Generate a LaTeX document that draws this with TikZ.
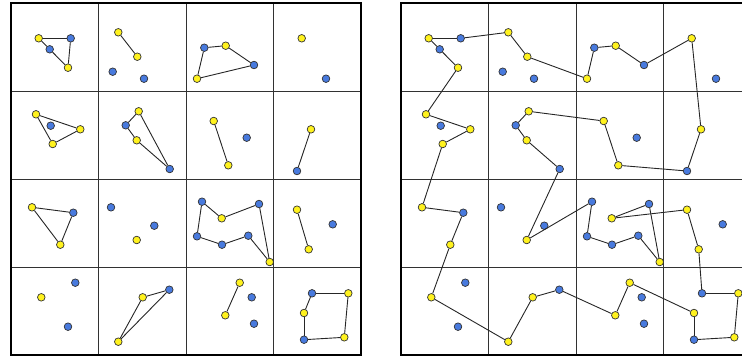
\documentclass[tikz,border=0pt]{standalone}
\usepackage{xcolor}
\usepackage{tikz}
\definecolor{ptyellow}{RGB}{255,242,30}
\definecolor{ptblue}{RGB}{72,122,222}
\definecolor{gridgray}{RGB}{50,50,50}

% point data: x/y/colour/number (pixels, y downwards)
\newcommand{\ptlist}{38.7/38.3/y/1, 70.7/38.3/b/2, 49.7/49.3/b/3, 68/67.7/y/4,
  118.3/32.3/y/5, 137.3/56.7/y/6, 112.7/71.7/b/7, 144/78.7/b/8,
  204.3/47.7/b/9, 225.7/45.7/y/10, 254/65/b/11, 197/78.7/y/12,
  301.7/38.3/y/13, 326/78.7/b/14,
  36/114.3/y/15, 50.7/125.7/b/16, 80.3/129.3/y/17, 52.7/144/y/18,
  138.7/111.3/y/19, 125.7/125.3/b/20, 136.7/140.3/y/21, 169.7/169/b/22,
  213.7/121/y/23, 246.7/137.7/b/24, 228.3/165.3/y/25,
  311/129.3/y/26, 297/171/b/27,
  32/207.3/y/28, 73.3/212.7/b/29, 60.3/244.7/y/30,
  111/207.3/b/31, 154.3/225.7/b/32, 136.7/240/y/33,
  202/201.7/b/34, 221.7/218.3/y/35, 259/204/b/36, 197/236.3/b/37,
  222/244.7/b/38, 248.3/235.7/b/39, 269.7/262/y/40,
  297/209.7/y/41, 332.7/224.3/b/42, 308.7/249.3/y/43,
  75.3/282.7/b/44, 41.3/297.3/y/45, 68/326.7/b/46,
  142.7/297.3/y/47, 169.3/289.7/b/48, 118.3/341.7/y/49,
  239.7/282.7/y/50, 251.7/297.3/b/51, 225.3/315.3/y/52, 254/323.7/b/53,
  312/293.3/b/54, 348.3/293.3/y/55, 304/313/y/56, 304/339.7/b/57, 344.3/337.3/y/58}

\begin{document}
\begin{tikzpicture}[x=1pt, y=-1pt,
  ypt/.style={circle, draw=black!80, line width=0.7pt, fill=ptyellow,
              inner sep=0pt, minimum size=7.6pt},
  bpt/.style={circle, draw=black!80, line width=0.7pt, fill=ptblue,
              inner sep=0pt, minimum size=7.6pt},
  cellline/.style={draw=gridgray, line width=0.9pt},
  border/.style={draw=black, line width=2pt},
  edge/.style={draw=black!85, line width=0.9pt}]
  \useasboundingbox (0,0) rectangle (742,357);
  \clip (0,0) rectangle (742,357);
  % two 4x4 grids
  \foreach \gx/\gn in {11/l, 401/r} {
    \foreach \i in {1,2,3} {
      \draw[cellline] (\gx+87.5*\i,3) -- (\gx+87.5*\i,355);
      \draw[cellline] (\gx,3+88*\i) -- (\gx+350,3+88*\i);
    }
    \draw[border] (\gx,3) rectangle (\gx+350,355);
    \foreach \px/\py/\c/\n in \ptlist
      \node[\c pt] (\gn\n) at (\gx-11+\px,\py) {};
  }
  % left: points joined within each cell
  \foreach \a/\b in {1/2, 2/4, 4/3, 3/1, 5/6, 9/10, 10/11, 11/12, 12/9,
      15/17, 17/18, 18/15, 19/20, 20/21, 21/22, 22/19, 23/25, 26/27,
      28/29, 29/30, 30/28, 47/48, 48/49, 49/47,
      34/35, 35/36, 36/40, 40/39, 39/38, 38/37, 37/34,
      41/43, 50/52, 54/55, 55/58, 58/57, 57/56, 56/54}
    \draw[edge] (l\a) -- (l\b);
  % right: one closed tour
  \foreach \a/\b in {1/2, 2/5, 5/6, 6/12, 12/9, 9/10, 10/11, 11/13, 13/26,
      26/27, 27/25, 25/23, 23/19, 19/20, 20/21, 21/22, 22/33, 33/34,
      34/37, 37/38, 38/39, 39/40, 40/36, 36/35, 35/41, 41/43, 43/54,
      54/55, 55/58, 58/57, 57/56, 56/50, 50/52, 52/48, 48/47, 47/49,
      49/45, 45/30, 30/29, 29/28, 28/18, 18/17, 17/15, 15/4, 4/3, 3/1}
    \draw[edge] (r\a) -- (r\b);
\end{tikzpicture}
\end{document}
